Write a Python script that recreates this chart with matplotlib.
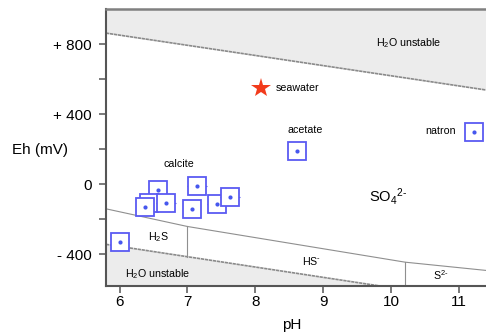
import matplotlib
matplotlib.use('Agg')
import matplotlib.pyplot as plt
import numpy as np

plt.rcParams['font.family'] = ['Liberation Sans', 'DejaVu Sans']
plt.rcParams['mathtext.fontset'] = 'custom'
plt.rcParams['mathtext.rm'] = 'Liberation Sans'
plt.rcParams['mathtext.it'] = 'Liberation Sans:italic'

# ── data ──────────────────────────────────────────────────────────────
sample_ph  = [6.00, 6.56, 6.43, 6.37, 6.68, 7.14, 7.07, 7.44, 7.63, 8.62, 11.22]
sample_eh  = [-331, -29, -105, -126, -103, -11, -139, -109, -69, 194, 299]
sample_err = [0, 0, 0, 0, 0.15, 0.15, 0, 0.15, 0.15, 0, 0]

seawater_ph, seawater_eh = 8.08, 553

# water stability limits
h2o_top_ph = [5.8, 11.4]
h2o_top_eh = [865, 540]
h2o_bot_ph = [5.8, 11.4]
h2o_bot_eh = [-342, -672]

# sulfur boundaries
so4_ph = [5.8, 7.0, 10.21, 11.4]
so4_eh = [-139, -240, -444, -491]
h2s_hs_ph, h2s_hs_eh = [7.0, 7.0], [-240, -415]
hs_s_ph, hs_s_eh = [10.21, 10.21], [-444, -580]

yticks = [800, 400, 0, -400]
ytick_labels = ["+ 800", "+ 400", "0", "- 400"]
xticks = [6, 7, 8, 9, 10, 11]

BLUE = "#5a5af2"
DOT = "#4657ee"
LINE = "#8f8f8f"
FILL = "#ececec"

fig = plt.figure(figsize=(4.86, 3.35), dpi=100)
ax = fig.add_axes([0.2181, 0.1463, 0.7819, 0.8254])
ax.set_xlim(5.8, 11.4); ax.set_ylim(-580, 1000)

# shaded H2O-unstable zones
ax.fill_between(np.array(h2o_top_ph), h2o_top_eh, 1000, color=FILL, lw=0, zorder=0)
ax.fill_between(np.array(h2o_bot_ph), h2o_bot_eh, -580, color=FILL, lw=0, zorder=0)
ax.plot(h2o_top_ph, h2o_top_eh, color="#8a8a8a", lw=1.2, ls=(0, (2, 0.4)), zorder=1)
ax.plot(h2o_bot_ph, h2o_bot_eh, color="#8a8a8a", lw=1.2, ls=(0, (2, 0.4)), zorder=1)

# sulfur fields
ax.plot(so4_ph, so4_eh, color=LINE, lw=0.8, zorder=1)
ax.plot(h2s_hs_ph, h2s_hs_eh, color=LINE, lw=0.8, zorder=1)
ax.plot(hs_s_ph, hs_s_eh, color=LINE, lw=0.8, zorder=1)

# samples: square + centre dot, drawn one by one so overlaps hide properly
z = 3
for p, e, err in zip(sample_ph, sample_eh, sample_err):
    if err:
        ax.errorbar(p, e, xerr=err, fmt='none', ecolor=BLUE, elinewidth=0.8, capsize=0, zorder=z)
    ax.plot(p, e, 's', ms=12.3, mfc='white', mec=BLUE, mew=1.3, zorder=z + 1)
    ax.plot(p, e, 'o', ms=3, color=DOT, mew=0, zorder=z + 2)
    z += 3

ax.plot(seawater_ph, seawater_eh, '*', ms=15, color="#f23b1c", mew=0, zorder=z)

# labels
small = 7.7
ax.text(6.88, 118, "calcite", fontsize=small, ha='center', va='center')
ax.text(8.73, 309, "acetate", fontsize=small, ha='center', va='center')
ax.text(10.73, 303, "natron", fontsize=small, ha='center', va='center')
ax.text(8.30, 553, "seawater", fontsize=small, ha='left', va='center')
ax.text(10.26, 810, r"H$_\mathregular{2}$O unstable", fontsize=small, ha='center', va='center')
ax.text(6.56, -510, r"H$_\mathregular{2}$O unstable", fontsize=small, ha='center', va='center')
ax.text(9.95, -69, r"SO$_\mathregular{4}$$^\mathregular{2\text{-}}$", fontsize=10.5, ha='center', va='center')
ax.text(6.57, -301, r"H$_\mathregular{2}$S", fontsize=small, ha='center', va='center')
ax.text(8.83, -438, r"HS$^\mathregular{\text{-}}$", fontsize=small, ha='center', va='center')
ax.text(10.74, -520, r"S$^\mathregular{2\text{-}}$", fontsize=small, ha='center', va='center')

# axes styling
ax.set_xticks(xticks)
ax.set_yticks(yticks); ax.set_yticklabels(ytick_labels)
ax.set_yticks([600, 200, -200], minor=True)
ax.tick_params(axis='both', which='both', direction='out', length=5, width=1.1,
               color="#555555", labelsize=11)
ax.tick_params(axis='x', pad=1.5)
ax.tick_params(axis='y', pad=5)
for s in ["left", "bottom"]:
    ax.spines[s].set_color("#555555"); ax.spines[s].set_linewidth(1.5)
ax.spines["top"].set_color("#808080"); ax.spines["top"].set_linewidth(1.8)
ax.spines["right"].set_visible(False)

fig.text(40.5 / 486, 1 - 150 / 335, "Eh (mV)", fontsize=11, ha='center', va='center')
fig.text(291.7 / 486, 1 - 325 / 335, "pH", fontsize=11, ha='center', va='center')

fig.savefig("out.png", dpi=100)
